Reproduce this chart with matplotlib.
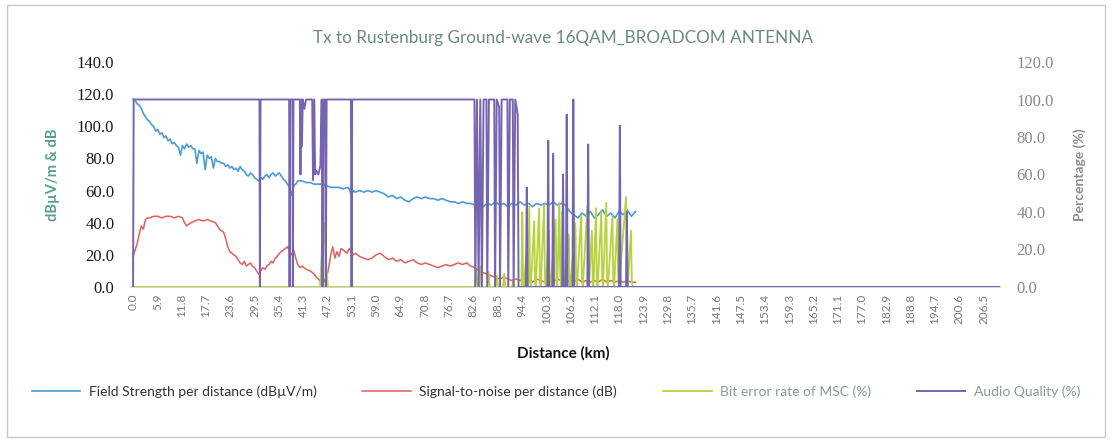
import matplotlib
matplotlib.use("Agg")
import matplotlib.pyplot as plt
from matplotlib.patches import Rectangle
from matplotlib.ticker import FuncFormatter

# ---- data -------------------------------------------------------------
tick_labels = ["0.0", "5.9", "11.8", "17.7", "23.6", "29.5", "35.4", "41.3", "47.2",
               "53.1", "59.0", "64.9", "70.8", "76.7", "82.6", "88.5", "94.4", "100.3",
               "106.2", "112.1", "118.0", "123.9", "129.8", "135.7", "141.6", "147.5",
               "153.4", "159.3", "165.2", "171.1", "177.0", "182.9", "188.8", "194.7",
               "200.6", "206.5"]

fs_km = [0, 0.5, 1, 1.5, 2, 2.5, 3, 3.5, 4, 4.5, 5, 5.5, 6, 6.5, 7, 7.5, 8, 8.5, 9, 9.5,
         10, 10.5, 11, 11.5, 12, 12.5, 13, 13.5, 14, 14.5, 15, 15.5, 16, 16.5, 17, 17.5,
         18, 18.5, 19, 19.5, 20, 20.5, 21, 21.5, 22, 22.5, 23, 23.5, 24, 24.5, 25, 25.5,
         26, 26.5, 27, 27.5, 28, 28.5, 29, 29.5, 30, 30.5, 31, 31.5, 32, 32.5, 33, 33.5,
         34, 34.5, 35, 35.5, 36, 36.5, 37, 37.5, 38, 38.5, 39, 39.5, 40, 41, 42, 43, 44,
         45, 46, 47, 48, 49, 50, 51, 52, 52.5, 53, 53.5, 54, 55, 56, 57, 58, 59, 60, 61,
         62, 63, 64, 65, 66, 67, 68, 69, 70, 71, 72, 73, 74, 75, 76, 77, 78, 79, 80, 81,
         82, 83, 84, 85, 86, 87, 88, 89, 90, 91, 92, 93, 94, 95, 96, 97, 98, 99, 100, 101,
         102, 103, 104, 105, 106, 107, 108, 109, 110, 111, 112, 113, 114, 115, 116, 117,
         118, 119, 120, 121, 122]
fs_val = [117, 116, 114, 113, 111, 108, 106, 104, 103, 101, 100, 97, 98, 95, 96, 93, 94,
          91, 92, 89, 90, 88, 87, 82, 88, 86, 89, 87, 88, 86, 86, 77, 85, 83, 84, 73, 82,
          80, 81, 74, 80, 78, 78, 77, 77, 75, 76, 74, 75, 73, 74, 72, 75, 73, 72, 70, 69,
          71, 70, 68, 67, 66, 68, 67, 69, 70, 68, 70, 71, 69, 70, 71, 69, 67, 66, 64, 62,
          57, 63, 64, 66, 66, 65, 65, 64, 64, 64, 63, 62, 62, 62, 61, 62, 61, 57, 60, 59,
          60, 59, 60, 59, 60, 59, 58, 56, 57, 55, 56, 54, 53, 55, 56, 55, 56, 55, 55, 54,
          55, 54, 53, 53, 52, 53, 52, 52, 51, 52, 50, 52, 51, 53, 51, 52, 50, 52, 51, 53,
          51, 52, 50, 52, 51, 52, 51, 53, 51, 52, 51, 47, 45, 43, 46, 44, 47, 43, 45, 48,
          44, 46, 43, 47, 45, 48, 44, 47]

snr_km = [0, 0.5, 1, 1.5, 2, 2.5, 3, 3.5, 4, 5, 6, 7, 8, 9, 10, 11, 12, 12.5, 13, 13.5,
          14, 15, 16, 17, 18, 19, 20, 21, 22, 22.5, 23, 23.5, 24, 25, 25.5, 26, 26.5, 27,
          27.5, 28, 28.5, 29, 29.5, 30, 30.5, 31, 31.5, 32, 32.5, 33, 33.5, 34, 34.5, 35,
          35.5, 36, 36.5, 37, 37.5, 38, 38.5, 39, 39.5, 40, 40.5, 41, 42, 43, 44, 44.5, 45,
          45.5, 46, 46.5, 47, 47.5, 48, 48.5, 49, 49.5, 50, 50.5, 51, 52, 52.5, 53, 53.5,
          54, 55, 56, 57, 58, 59, 60, 61, 62, 63, 64, 65, 66, 67, 68, 69, 70, 71, 72, 73,
          74, 75, 76, 77, 78, 79, 80, 81, 82, 83, 84, 85, 86, 87, 88, 89, 90, 91, 92, 93,
          94, 95, 96, 97, 98, 99, 100, 101, 102, 103, 104, 105, 106, 107, 108, 109, 110,
          111, 112, 113, 114, 115, 116, 117, 118, 119, 120, 121, 122]
snr_val = [19, 23, 27, 33, 38, 36, 42, 43, 43, 44, 44, 43, 44, 44, 43, 44, 43, 40, 38, 39,
           40, 41, 42, 41, 42, 41, 40, 36, 34, 30, 25, 22, 21, 19, 17, 15, 14, 16, 13, 14,
           15, 13, 12, 10, 8, 10, 12, 11, 13, 14, 16, 15, 18, 19, 21, 22, 23, 24, 25, 22,
           20, 23, 18, 14, 12, 13, 11, 10, 8, 6, 5, 3, 2, 4, 6, 12, 20, 25, 18, 22, 19, 24,
           23, 21, 24, 22, 20, 21, 19, 18, 17, 18, 20, 21, 19, 17, 18, 16, 17, 15, 16, 17,
           15, 14, 15, 14, 13, 12, 13, 14, 13, 14, 15, 14, 15, 13, 12, 10, 9, 8, 7, 6, 5, 6,
           5, 4, 5, 4, 5, 4, 3, 5, 4, 3, 4, 3, 5, 4, 3, 4, 3, 5, 3, 4, 3, 4, 3, 5, 3, 4, 3,
           4, 3, 4, 3, 3]

ber_km = [0, 45.4, 45.9, 46.4, 46.9, 47.3, 47.7, 83.0, 83.3, 83.6, 84.0, 84.3, 84.6, 86.0,
          86.3, 86.6, 88.0, 88.3, 88.6, 89.8, 90.1, 90.4, 92.0, 92.3, 92.6,
          94.3, 94.5, 94.7, 94.9, 95.5, 95.7, 95.9, 96.2, 96.4, 96.6, 97.4, 97.6, 97.8,
          98.6, 98.8, 99.0, 99.8, 100.0, 100.2, 101.0, 101.2, 101.4, 102.6, 102.8, 103.0,
          103.5, 103.7, 103.9, 104.2, 104.4, 104.6, 105.8, 106.0, 106.2, 107.4, 107.6,
          107.8, 108.8, 109.0, 109.2, 110.3, 110.5, 110.7, 111.4, 111.6, 111.8, 112.4,
          112.6, 112.8, 113.7, 113.9, 114.1, 114.9, 115.1, 115.3, 116.4, 116.6, 116.8,
          117.6, 117.8, 118.0, 119.7, 119.9, 120.1, 120.9, 121.1, 121.3, 122.0, 210.5]
ber_val = [0, 0, 22, 34, 12, 0, 0, 0, 9, 1, 0, 11, 0, 0, 8, 0, 0, 6, 0, 0, 7, 0, 0, 4, 0,
           0, 40, 3, 0, 18, 2, 0, 43, 3, 0, 35, 2, 0, 42, 2, 0, 44, 3, 0, 30, 2, 0, 36, 3,
           0, 45, 8, 0, 40, 3, 0, 28, 2, 0, 34, 3, 0, 38, 4, 0, 43, 2, 0, 30, 3, 0, 42, 4,
           0, 40, 5, 0, 45, 3, 0, 38, 4, 0, 36, 3, 0, 48, 2, 0, 30, 3, 0, 0, 0]

aq_km = [0, 0.15, 30.7, 30.8, 30.95, 37.9, 38.0, 38.15, 38.7, 38.8, 38.95, 40.5, 40.65,
         40.8, 41.0, 41.2, 41.6, 42.0, 43.5, 43.7, 44.0, 44.2, 44.5, 45.0, 45.5, 45.8,
         46.0, 46.2, 46.6, 46.8, 47.0, 52.9, 53.05, 53.2, 82.9, 83.1, 83.5, 83.9, 84.3,
         84.7, 85.1, 85.8, 86.0, 86.4, 87.7, 87.9, 88.3, 88.9, 89.1, 89.5, 90.9, 91.1,
         91.5, 92.2, 92.4, 92.8, 93.4, 93.6, 94.5, 95.4, 95.6, 95.8, 100.6, 100.8, 101.0,
         101.8, 102.0, 102.2, 104.2, 104.4, 104.6, 105.1, 105.3, 105.5, 106.7, 106.9,
         107.1, 110.3, 110.5, 110.7, 118.0, 118.2, 118.4, 119.7, 119.9, 120.1, 122.0,
         210.5]
aq_val = [0, 100, 100, 0, 100, 100, 0, 100, 100, 0, 100, 100, 60, 100, 75, 100, 95, 100,
          100, 57, 100, 60, 62, 60, 65, 100, 0, 100, 100, 0, 100, 100, 0, 100, 100, 0, 100,
          0, 100, 0, 100, 100, 0, 100, 100, 0, 100, 96, 0, 100, 100, 0, 100, 100, 0, 100,
          92, 0, 0, 0, 53, 0, 0, 78, 0, 0, 71, 0, 0, 60, 0, 0, 92, 0, 0, 100, 0, 0, 76, 0,
          0, 86, 0, 0, 40, 0, 0, 0]

# ---- styling ---------------------------------------------------------
c_fs = "#4a9bd6"
c_snr = "#e0605a"
c_ber = "#b5d33a"
c_aq = "#7565b0"

fig = plt.figure(figsize=(11.12, 4.41), dpi=100)
fig.patch.set_facecolor("white")

# chart border
fig.add_artist(Rectangle((7 / 1112, 4 / 441), 1098 / 1112, 432 / 441,
                         transform=fig.transFigure, fill=False,
                         edgecolor="#c8c8c8", linewidth=1.0))

ax = fig.add_axes([131 / 1112, 1 - 287 / 441, 869 / 1112, 225 / 441])
ax2 = ax.twinx()

ax.plot(fs_km, fs_val, color=c_fs, linewidth=1.2, label="Field Strength per distance (dBµV/m)")
ax.plot(snr_km, snr_val, color=c_snr, linewidth=1.1, label="Signal-to-noise per distance (dB)")
ax2.plot(ber_km, ber_val, color=c_ber, linewidth=1.3, label="Bit error rate of MSC (%)")
ax2.plot(aq_km, aq_val, color=c_aq, linewidth=1.4, label="Audio Quality (%)")

ax.set_xlim(-0.5, 210.5)
ax.set_ylim(0, 140)
ax2.set_ylim(0, 120)

tick_pos = [float(t) for t in tick_labels]
ax.set_xticks(tick_pos)
ax.set_xticklabels(tick_labels, rotation=90, fontsize=8.5, color="#777777",
                   family="Lato")
ax.tick_params(axis="x", length=0, pad=5)

ax.set_yticks(range(0, 141, 20))
ax.yaxis.set_major_formatter(FuncFormatter(lambda v, p: f"{v:.1f}"))
ax.tick_params(axis="y", length=0, pad=12, labelsize=12, labelcolor="#1a1a1a")
for lab in ax.get_yticklabels():
    lab.set_family("Liberation Serif")

ax2.set_yticks(range(0, 121, 20))
ax2.yaxis.set_major_formatter(FuncFormatter(lambda v, p: f"{v:.1f}"))
ax2.tick_params(axis="y", length=0, pad=12, labelsize=12, labelcolor="#8a8a8a")
for lab in ax2.get_yticklabels():
    lab.set_family("Liberation Serif")

for a in (ax, ax2):
    for s in ("top", "left", "right"):
        a.spines[s].set_visible(False)
    a.spines["bottom"].set_color("#d0d0d0")
    a.spines["bottom"].set_linewidth(1.2)
ax2.spines["bottom"].set_visible(False)

ax.set_ylabel("dBµV/m & dB", fontsize=10.5, fontweight="bold", color="#5a9e8e",
              family="Lato", labelpad=12)
ax2.set_ylabel("Percentage (%)", fontsize=10, fontweight="bold", color="#8a8a8a",
               family="Lato", labelpad=14)

fig.text(563 / 1112, 1 - 353 / 441, "Distance (km)", ha="center", va="center",
         fontsize=11, fontweight="bold", color="#111111", family="Lato")

fig.text(563 / 1112, 1 - 38 / 441,
         "Tx to Rustenburg Ground-wave 16QAM_BROADCOM ANTENNA",
         ha="center", va="center", fontsize=12.3, color="#6b8a85", family="Lato")

h1, l1 = ax.get_legend_handles_labels()
h2, l2 = ax2.get_legend_handles_labels()
leg = fig.legend(h1 + h2, l1 + l2, loc="center", bbox_to_anchor=(0.5, 1 - 392 / 441),
                 ncol=4, frameon=False, handlelength=3.5,
                 columnspacing=3.3, handletextpad=0.6, prop={"family": "Lato", "size": 10})
for txt, col in zip(leg.get_texts(), ["#333333", "#333333", "#8a9a9a", "#8a9a9a"]):
    txt.set_color(col)

fig.savefig("out.png", dpi=100, facecolor="white")
